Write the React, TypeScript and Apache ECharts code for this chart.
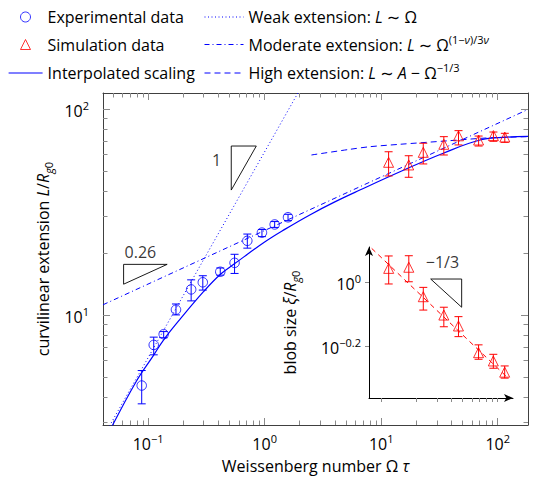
import React, { useEffect, useRef } from "react";
import * as echarts from "echarts";

// ---------- axis ranges ----------
const X_MIN = 0.041;
const X_MAX = 182;
const Y_MIN = 2.92;
const Y_MAX = 119.6;
const INSET_X_MIN = 7.84;
const INSET_X_MAX = 135.7;
const INSET_Y_MIN = 0.433;
const INSET_Y_MAX = 1.291;

// ---------- ticks ----------
const X_MAJOR = [0.1, 1, 10, 100];
const Y_MAJOR = [10, 100];
const INSET_X_TICKS = [10, 20, 30, 40, 50, 60, 70, 80, 90, 100];
const INSET_Y_TICK_EXP = [0, -0.2];

// ---------- experimental data (circles) ----------
const EXP_OMEGA = [0.0881, 0.1117, 0.136, 0.1734, 0.234, 0.2946, 0.416, 0.552, 0.71, 0.948, 1.219, 1.587];
const EXP_L = [4.54, 7.15, 8.06, 10.6, 13.3, 14.4, 16.2, 17.9, 22.9, 25.1, 27.5, 29.8];
const EXP_L_LOW = [3.7, 6.4, 7.75, 10.0, 11.7, 13.2, 15.6, 15.9, 21.1, 24.0, 26.6, 28.7];
const EXP_L_HIGH = [5.37, 7.8, 8.3, 11.3, 14.8, 15.5, 16.9, 19.7, 24.7, 26.0, 28.4, 30.8];

// ---------- simulation data (triangles) ----------
const SIM_OMEGA = [11.58, 17.24, 22.97, 34.5, 46.1, 68.6, 91.9, 115.1];
const SIM_L = [55.1, 53.5, 61.6, 67.4, 74.1, 70.7, 74.3, 73.1];
const SIM_L_LOW = [47.3, 46.6, 54.1, 59.8, 66.9, 66.1, 69.7, 68.9];
const SIM_L_HIGH = [62.0, 59.3, 68.2, 73.4, 78.5, 73.9, 77.3, 76.2];

// ---------- curves ----------
const SOLID_X = [0.045, 0.0788, 0.112, 0.136, 0.186, 0.3, 0.42, 0.55, 1.0, 1.5, 2.44, 4.0, 6.56, 15, 34.1, 70.6, 120, 182];
const SOLID_Y = [2.62, 4.74, 6.4, 7.57, 9.46, 13.0, 15.8, 17.7, 22.6, 26.1, 30.6, 35.4, 40.4, 50, 61, 70.7, 73.0, 73.6];
const WEAK_X = [0.045, 1.93];
const WEAK_Y = [2.79, 119.6];
const MODERATE_X = [0.041, 182];
const MODERATE_Y = [11.2, 99.5];
const HIGH_X = [2.52, 5.38, 8.0, 14.5, 39, 80, 182];
const HIGH_Y = [59.8, 63.7, 65.6, 67.4, 70.2, 72.3, 73.4];

// ---------- slope triangles ----------
const TRI_ONE_X = [0.517, 0.517, 0.848, 0.517];
const TRI_ONE_Y = [40.4, 66.1, 66.1, 40.4];
const TRI_026_X = [0.0616, 0.0616, 0.1457, 0.0616];
const TRI_026_Y = [14.1, 17.6, 17.6, 14.1];

// ---------- inset: blob size ----------
const BLOB = [1.106, 1.115, 0.901, 0.789, 0.729, 0.601, 0.566, 0.522];
const BLOB_LOW = [0.988, 1.004, 0.818, 0.725, 0.675, 0.573, 0.537, 0.5];
const BLOB_HIGH = [1.21, 1.212, 0.964, 0.835, 0.78, 0.636, 0.594, 0.546];
const BLOB_FIT_X = [8.27, 119.7];
const BLOB_FIT_Y = [1.278, 0.505];
const TRI_INSET_X = [26.6, 49.1, 49.1, 26.6];
const TRI_INSET_Y = [1.024, 1.024, 0.835, 1.024];

// ---------- annotation anchors (text centers) ----------
const ANNOT_MAIN = [
  { x: 0.391, y: 56.5, text: "1" },
  { x: 0.0867, y: 20.1, text: "0.26" },
];
const ANNOT_INSET = [{ x: 33.9, y: 1.158, text: "−1/3" }];

const FONT = "'Open Sans', 'DejaVu Sans', sans-serif";
const BLUE = "#0000ff";
const RED = "#ff0000";
const FRAME = "#404040";
const TICK = "#8a8a8a";

const lg = (v: number) => Math.log10(v);
const pts = (xs: number[], ys: number[]) => xs.map((x, i) => [lg(x), lg(ys[i])]);

const minorTicks = (lo: number, hi: number) => {
  const out: number[] = [];
  for (let e = -3; e <= 3; e++) {
    for (let k = 2; k <= 9; k++) {
      const v = k * Math.pow(10, e);
      if (v >= lo && v <= hi) out.push(lg(v));
    }
  }
  return out;
};

const rich: any = {
  n: { fontSize: 16, fontFamily: FONT, color: "#000", lineHeight: 22 },
  i: { fontSize: 16, fontFamily: FONT, color: "#000", lineHeight: 22, fontStyle: "italic" },
  b: { fontSize: 16, fontFamily: FONT, color: "#000", lineHeight: 22 },
  sup: { fontSize: 11, fontFamily: FONT, color: "#000", lineHeight: 12, verticalAlign: "top" },
  supHi: { fontSize: 11, fontFamily: FONT, color: "#000", lineHeight: 4, verticalAlign: "top" },
  supHiI: { fontSize: 11, fontFamily: FONT, color: "#000", lineHeight: 4, verticalAlign: "top", fontStyle: "italic" },
  sub: { fontSize: 11, fontFamily: FONT, color: "#000", lineHeight: 14, verticalAlign: "bottom", fontStyle: "italic" },
  sub0: { fontSize: 11, fontFamily: FONT, color: "#000", lineHeight: 14, verticalAlign: "bottom" },
};

const LEGEND_TEXT: Record<string, string> = {
  "Experimental data": "{n|Experimental data}",
  "Simulation data": "{n|Simulation data}",
  "Interpolated scaling": "{n|Interpolated scaling}",
  "Weak extension": "{n|Weak extension: }{i|L}{n| ∼ Ω}",
  "Moderate extension": "{n|Moderate extension: }{i|L}{n| ∼ Ω}{supHi|(1−}{supHiI|ν}{supHi|)/3}{supHiI|ν}",
  "High extension": "{n|High extension: }{i|L}{n| ∼ }{i|A}{n| − Ω}{sup|−1/3}",
};

const powLabel = (v: number) => {
  const e = Math.round(v * 10) / 10;
  const s = e < 0 ? "−" + Math.abs(e) : String(e);
  return `{b|10}{sup|${s}}`;
};

function errorBars(color: string, xs: number[], lo: number[], hi: number[], xi: number, yi: number) {
  return {
    type: "custom",
    xAxisIndex: xi,
    yAxisIndex: yi,
    silent: true,
    z: 4,
    data: xs.map((x, i) => [lg(x), lg(lo[i]), lg(hi[i])]),
    renderItem: (_params: any, api: any) => {
      const a = api.coord([api.value(0), api.value(1)]);
      const b = api.coord([api.value(0), api.value(2)]);
      const w = 4;
      const st = { stroke: color, lineWidth: 1 };
      return {
        type: "group",
        children: [
          { type: "line", shape: { x1: a[0], y1: a[1], x2: b[0], y2: b[1] }, style: st },
          { type: "line", shape: { x1: a[0] - w, y1: a[1], x2: a[0] + w, y2: a[1] }, style: st },
          { type: "line", shape: { x1: b[0] - w, y1: b[1], x2: b[0] + w, y2: b[1] }, style: st },
        ],
      };
    },
  };
}

// marker legend: small square icon box, text pushed right with padding
function legendMarker(name: string, top: number) {
  return {
    data: [name],
    left: 20,
    top,
    padding: 0,
    itemWidth: 10,
    itemHeight: 10,
    selectedMode: false,
    itemStyle: { borderWidth: 1 },
    formatter: (n: string) => LEGEND_TEXT[n] || n,
    textStyle: { fontSize: 16, fontFamily: FONT, color: "#000", lineHeight: 22, rich, padding: [0, 0, 0, 12] },
  };
}

// line legend: line only, no symbol
function legendLine(name: string, left: number, top: number, w: number, width: number) {
  return {
    data: [name],
    left,
    top,
    padding: 0,
    itemWidth: w,
    itemHeight: 10,
    selectedMode: false,
    itemStyle: { opacity: 0 },
    lineStyle: { width, opacity: 1 },
    formatter: (n: string) => LEGEND_TEXT[n] || n,
    textStyle: { fontSize: 16, fontFamily: FONT, color: "#000", lineHeight: 22, rich },
  };
}

function buildOption(): any {
  const xMin = lg(X_MIN), xMax = lg(X_MAX), yMin = lg(Y_MIN), yMax = lg(Y_MAX);
  const xMajor = X_MAJOR.map(lg);
  const yMajor = Y_MAJOR.map(lg);
  const xMinor = minorTicks(X_MIN, X_MAX);
  const yMinor = minorTicks(Y_MIN, Y_MAX);
  const noLine = { show: false, onZero: false };
  const frameLine = { show: true, onZero: false, lineStyle: { color: FRAME, width: 1 } };
  const tickMajor = (vals: number[]) => ({ show: true, inside: true, length: 7, customValues: vals, lineStyle: { color: TICK, width: 1 } });
  const tickMinor = (vals: number[]) => ({ show: true, inside: true, length: 4.5, customValues: vals, lineStyle: { color: TICK, width: 1 } });
  const base = { type: "value", gridIndex: 0, splitLine: { show: false }, axisLabel: { show: false } };
  const xBase = { ...base, min: xMin, max: xMax };
  const yBase = { ...base, min: yMin, max: yMax };

  const annotSeries = (list: any[], xi: number, yi: number) => ({
    type: "scatter",
    xAxisIndex: xi,
    yAxisIndex: yi,
    silent: true,
    symbolSize: 1,
    itemStyle: { color: "rgba(0,0,0,0)" },
    z: 6,
    data: list.map((a) => ({
      value: [lg(a.x), lg(a.y)],
      label: {
        show: true,
        position: [0, 0],
        align: "center",
        verticalAlign: "middle",
        formatter: a.text,
        fontSize: 16,
        fontFamily: FONT,
        color: "#000",
      },
    })),
  });

  return {
    animation: false,
    backgroundColor: "#fff",
    textStyle: { fontFamily: FONT },
    legend: [
      legendMarker("Experimental data", 6),
      legendMarker("Simulation data", 33.5),
      legendLine("Interpolated scaling", 8, 62, 34, 1.2),
      legendLine("Weak extension", 204, 6, 39, 1),
      legendLine("Moderate extension", 204, 33.5, 39, 1),
      legendLine("High extension", 204, 62, 39, 1),
    ],
    grid: [
      { left: 103, top: 93, right: 6, bottom: 60 },
      { left: 369, top: 247, right: 21, bottom: 87 },
    ],
    xAxis: [
      {
        ...xBase,
        position: "bottom",
        axisLine: frameLine,
        axisTick: tickMajor(xMajor),
        axisLabel: { show: true, customValues: xMajor, margin: 8, formatter: powLabel, rich },
        name: "{n|Weissenberg number Ω }{i|τ}",
        nameLocation: "middle",
        nameGap: 30,
        nameTextStyle: { rich, fontSize: 16, fontFamily: FONT, color: "#000" },
      },
      { ...xBase, position: "bottom", axisLine: noLine, axisTick: tickMinor(xMinor) },
      { ...xBase, position: "top", axisLine: frameLine, axisTick: tickMajor(xMajor) },
      { ...xBase, position: "top", axisLine: noLine, axisTick: tickMinor(xMinor) },
      {
        type: "value",
        gridIndex: 1,
        min: lg(INSET_X_MIN),
        max: lg(INSET_X_MAX),
        position: "bottom",
        splitLine: { show: false },
        axisLine: { show: true, onZero: false, symbol: ["none", "arrow"], symbolSize: [6, 9], lineStyle: { color: "#000", width: 1 } },
        axisTick: { show: true, inside: false, length: 4, customValues: INSET_X_TICKS.map(lg), lineStyle: { color: TICK, width: 1 } },
        axisLabel: { show: false },
      },
    ],
    yAxis: [
      {
        ...yBase,
        position: "left",
        axisLine: frameLine,
        axisTick: tickMajor(yMajor),
        axisLabel: { show: true, customValues: yMajor, margin: 14, formatter: powLabel, rich, padding: [4, 0, 0, 0] },
        name: "{n|curvilinear extension }{i|L}{n|/}{i|R}{sub|g}{sub0|0}",
        nameLocation: "middle",
        nameRotate: 90,
        nameGap: 46,
        nameTextStyle: { rich, fontSize: 16, fontFamily: FONT, color: "#000" },
      },
      { ...yBase, position: "left", axisLine: noLine, axisTick: tickMinor(yMinor) },
      { ...yBase, position: "right", axisLine: frameLine, axisTick: tickMajor(yMajor) },
      { ...yBase, position: "right", axisLine: noLine, axisTick: tickMinor(yMinor) },
      {
        type: "value",
        gridIndex: 1,
        min: lg(INSET_Y_MIN),
        max: lg(INSET_Y_MAX),
        position: "left",
        splitLine: { show: false },
        axisLine: { show: true, onZero: false, symbol: ["none", "arrow"], symbolSize: [6, 9], lineStyle: { color: "#000", width: 1 } },
        axisTick: { show: true, inside: false, length: 4, customValues: INSET_Y_TICK_EXP, lineStyle: { color: TICK, width: 1 } },
        axisLabel: { show: true, customValues: INSET_Y_TICK_EXP, margin: 8, formatter: powLabel, rich, padding: [4, 0, 0, 0] },
        name: "{n|blob size }{i|ξ}{n|/}{i|R}{sub|g}{sub0|0}",
        nameLocation: "middle",
        nameRotate: 90,
        nameGap: 68,
        nameTextStyle: { rich, fontSize: 16, fontFamily: FONT, color: "#000" },
      },
    ],
    series: [
      {
        name: "Moderate extension",
        type: "line",
        xAxisIndex: 0,
        yAxisIndex: 0,
        data: pts(MODERATE_X, MODERATE_Y),
        symbol: "none",
        silent: true,
        z: 2,
        lineStyle: { color: BLUE, width: 1, type: [5, 3, 1, 3] },
        itemStyle: { color: BLUE },
      },
      {
        name: "Weak extension",
        type: "line",
        xAxisIndex: 0,
        yAxisIndex: 0,
        data: pts(WEAK_X, WEAK_Y),
        symbol: "none",
        silent: true,
        z: 2,
        lineStyle: { color: BLUE, width: 1, type: [1, 2.5] },
        itemStyle: { color: BLUE },
      },
      {
        name: "High extension",
        type: "line",
        xAxisIndex: 0,
        yAxisIndex: 0,
        data: pts(HIGH_X, HIGH_Y),
        smooth: 0.3,
        symbol: "none",
        silent: true,
        z: 2,
        lineStyle: { color: BLUE, width: 1, type: [6, 4] },
        itemStyle: { color: BLUE },
      },
      {
        name: "Interpolated scaling",
        type: "line",
        xAxisIndex: 0,
        yAxisIndex: 0,
        data: pts(SOLID_X, SOLID_Y),
        smooth: 0.4,
        symbol: "none",
        silent: true,
        z: 3,
        lineStyle: { color: BLUE, width: 1.2 },
        itemStyle: { color: BLUE },
      },
      errorBars(BLUE, EXP_OMEGA, EXP_L_LOW, EXP_L_HIGH, 0, 0),
      {
        name: "Experimental data",
        type: "scatter",
        xAxisIndex: 0,
        yAxisIndex: 0,
        data: pts(EXP_OMEGA, EXP_L),
        symbol: "circle",
        symbolSize: 9.5,
        silent: true,
        z: 5,
        itemStyle: { color: "rgba(0,0,0,0)", borderColor: BLUE, borderWidth: 1 },
      },
      errorBars(RED, SIM_OMEGA, SIM_L_LOW, SIM_L_HIGH, 0, 0),
      {
        name: "Simulation data",
        type: "scatter",
        xAxisIndex: 0,
        yAxisIndex: 0,
        data: pts(SIM_OMEGA, SIM_L),
        symbol: "triangle",
        symbolSize: 10,
        silent: true,
        z: 5,
        itemStyle: { color: "rgba(0,0,0,0)", borderColor: RED, borderWidth: 1 },
      },
      {
        type: "line",
        xAxisIndex: 0,
        yAxisIndex: 0,
        data: pts(TRI_ONE_X, TRI_ONE_Y),
        symbol: "none",
        silent: true,
        lineStyle: { color: "#000", width: 0.9 },
      },
      {
        type: "line",
        xAxisIndex: 0,
        yAxisIndex: 0,
        data: pts(TRI_026_X, TRI_026_Y),
        symbol: "none",
        silent: true,
        lineStyle: { color: "#000", width: 0.9 },
      },
      annotSeries(ANNOT_MAIN, 0, 0),
      // ---------- inset ----------
      {
        type: "line",
        xAxisIndex: 4,
        yAxisIndex: 4,
        data: pts(BLOB_FIT_X, BLOB_FIT_Y),
        symbol: "none",
        silent: true,
        z: 2,
        lineStyle: { color: RED, width: 1, type: [5, 4] },
      },
      errorBars(RED, SIM_OMEGA, BLOB_LOW, BLOB_HIGH, 4, 4),
      {
        type: "scatter",
        xAxisIndex: 4,
        yAxisIndex: 4,
        data: pts(SIM_OMEGA, BLOB),
        symbol: "triangle",
        symbolSize: 10,
        silent: true,
        z: 5,
        itemStyle: { color: "rgba(0,0,0,0)", borderColor: RED, borderWidth: 1 },
      },
      {
        type: "line",
        xAxisIndex: 4,
        yAxisIndex: 4,
        data: pts(TRI_INSET_X, TRI_INSET_Y),
        symbol: "none",
        silent: true,
        lineStyle: { color: "#000", width: 0.9 },
      },
      annotSeries(ANNOT_INSET, 4, 4),
    ],
  };
}

export default function App() {
  const ref = useRef<HTMLDivElement>(null);
  useEffect(() => {
    if (!ref.current) return;
    const chart = echarts.init(ref.current, undefined, { renderer: "svg" });
    chart.setOption(buildOption());
    return () => chart.dispose();
  }, []);
  return <div ref={ref} style={{ position: "absolute", left: 0, top: 0, width: 534, height: 485 }} />;
}
